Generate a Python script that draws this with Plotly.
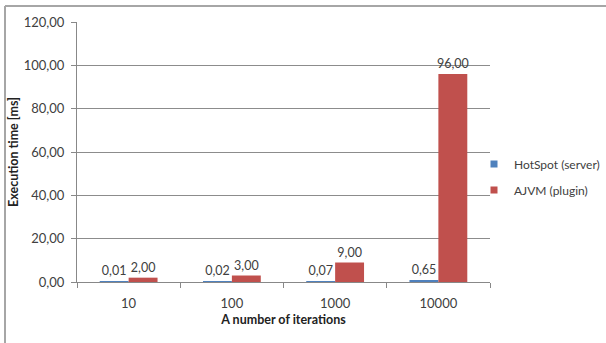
import plotly.graph_objects as go

iterations = ["10", "100", "1000", "10000"]
hotspot_server = [0.01, 0.02, 0.07, 0.65]
ajvm_plugin = [2.00, 3.00, 9.00, 96.00]

series_names = ["HotSpot (server)", "AJVM (plugin)"]
series_colors = ["#4F81BD", "#C0504D"]

W, H = 606, 343
ML, MR, MT, MB = 77, 116, 22, 61
PW, PH = W - ML - MR, H - MT - MB

font_family = "Lato, Liberation Sans, sans-serif"
text_color = "#404040"

fig = go.Figure()
for name, values, color in zip(series_names, [hotspot_server, ajvm_plugin], series_colors):
    fig.add_trace(go.Bar(
        x=iterations, y=values, name=name, showlegend=False,
        marker=dict(color=color, line=dict(width=0)),
        texttemplate="%{y:.2f}", textposition="outside",
        constraintext="none",
        textfont=dict(size=12.5, color=text_color, family=font_family),
        cliponaxis=False,
    ))

# small square legend keys
for name, color in zip(series_names, series_colors):
    fig.add_trace(go.Scatter(
        x=[None], y=[None], name=name, mode="markers", legendgroup=name,
        marker=dict(symbol="square", size=7, color=color),
    ))

def px_x(x):
    return (x - ML) / PW

def px_y(y):
    return (H - MB - y) / PH

# outer chart frame (top and left edges)
frame = dict(type="line", xref="paper", yref="paper",
             line=dict(color="#a6a6a6", width=2), layer="above")
fig.add_shape(**frame, x0=px_x(5), x1=px_x(W), y0=px_y(6), y1=px_y(6))
fig.add_shape(**frame, x0=px_x(5), x1=px_x(5), y0=px_y(6), y1=px_y(H))

fig.update_layout(
    width=W, height=H,
    margin=dict(l=ML, r=MR, t=MT, b=MB, pad=0, autoexpand=False),
    paper_bgcolor="white", plot_bgcolor="white",
    separators=",.",
    barmode="group", bargap=0.44, bargroupgap=0,
    font=dict(family=font_family, size=13, color=text_color),
    showlegend=True,
    legend=dict(x=px_x(474), y=px_y(177), xanchor="left", yanchor="middle",
                font=dict(size=12, color=text_color),
                itemwidth=30, tracegroupgap=7, bgcolor="rgba(0,0,0,0)"),
    xaxis=dict(
        type="category", showgrid=False,
        showline=True, linecolor="#888888", linewidth=1,
        ticks="outside", tickson="boundaries", ticklen=5, tickcolor="#888888",
        ticklabelstandoff=9,
        tickfont=dict(size=13, color=text_color),
        title=dict(text="<b>A number of iterations</b>", standoff=5,
                   font=dict(size=12.5, color="#222222")),
    ),
    yaxis=dict(
        range=[0, 120], dtick=20, tickformat=".2f",
        showgrid=True, gridcolor="#8c8c8c", gridwidth=1,
        showline=True, linecolor="#888888", linewidth=1,
        ticks="outside", ticklen=5, tickcolor="#888888",
        ticklabelstandoff=4,
        tickfont=dict(size=13, color=text_color),
        zeroline=False,
        title=dict(text="<b>Execution time [ms]</b>", standoff=2,
                   font=dict(size=12.5, color="#222222")),
    ),
)

fig.write_html("out.html")
